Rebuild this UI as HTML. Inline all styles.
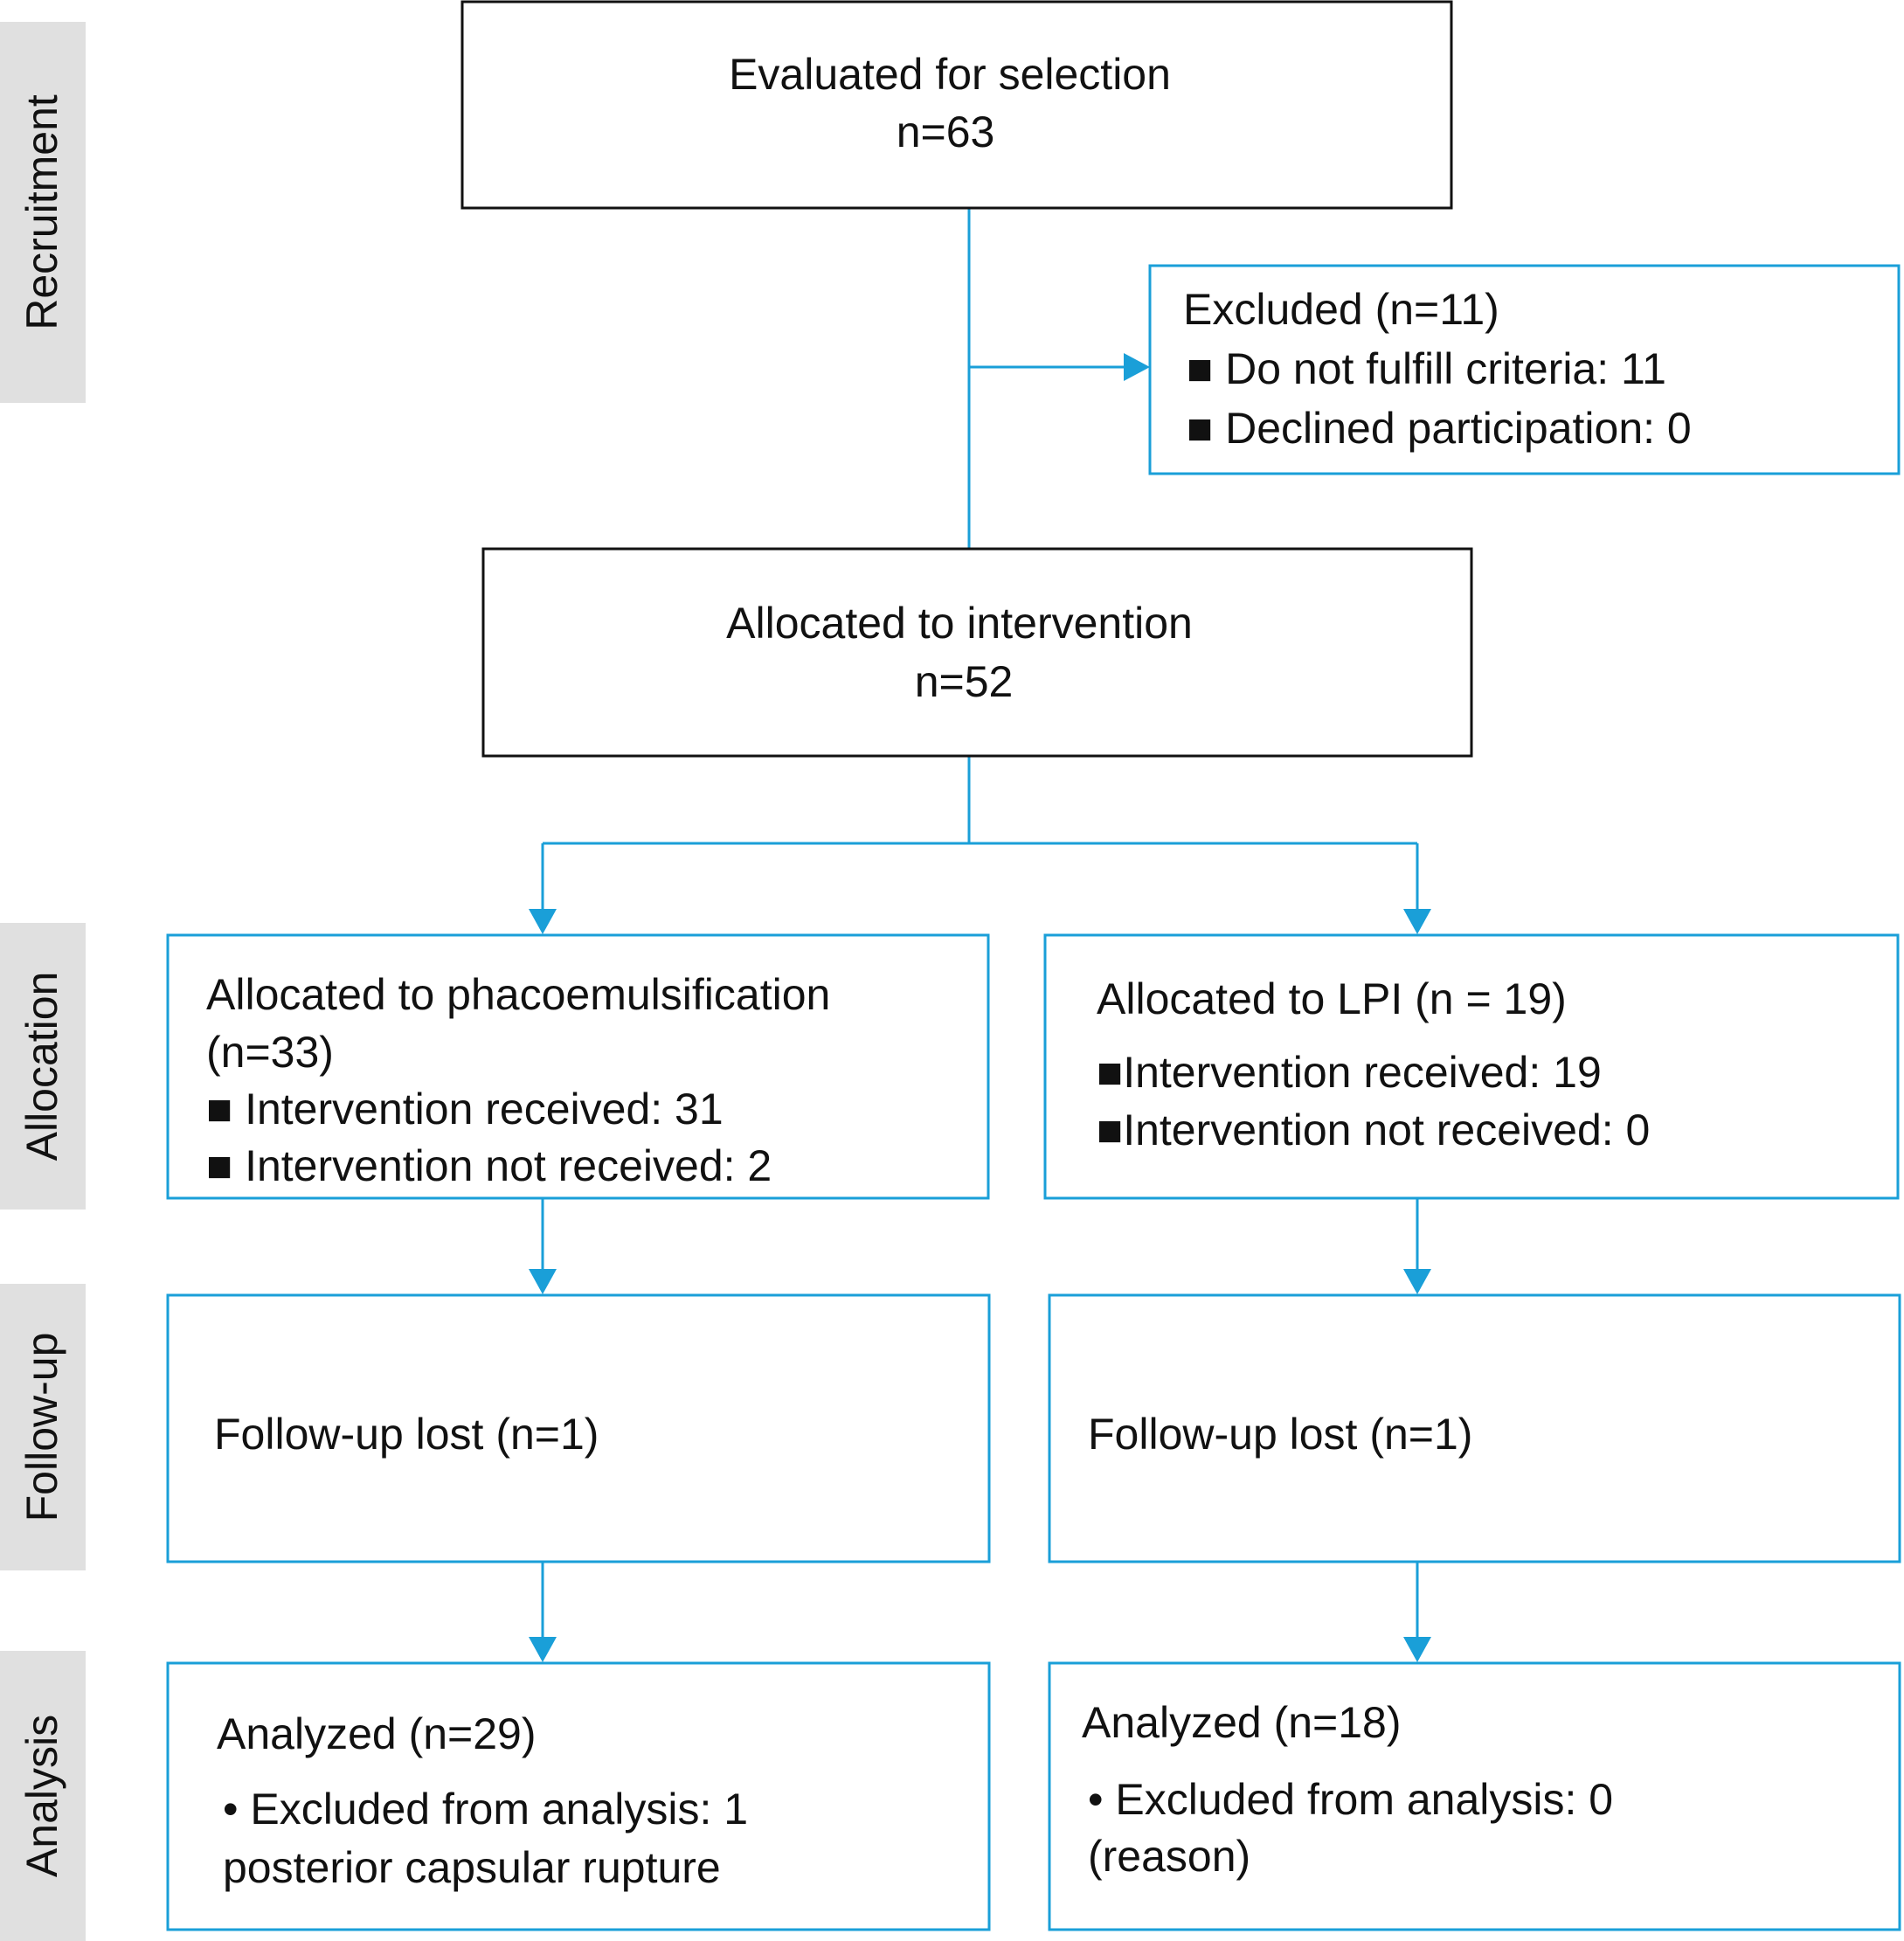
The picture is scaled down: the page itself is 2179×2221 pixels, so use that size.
<!DOCTYPE html>
<html><head><meta charset="utf-8"><style>
html,body{margin:0;padding:0;background:#fff;}
svg{display:block}
text{font-family:"Liberation Sans",Arial,sans-serif;fill:#111;font-size:50px;}
</style></head><body>
<svg width="2179" height="2221" viewBox="0 0 2179 2221" xmlns="http://www.w3.org/2000/svg">
<g fill="#e0e0e0">
<rect x="0" y="25" width="98" height="436"/>
<rect x="0" y="1056" width="98" height="328"/>
<rect x="0" y="1469" width="98" height="328"/>
<rect x="0" y="1889" width="98" height="332"/>
</g>
<g text-anchor="middle" dominant-baseline="central">
<text transform="translate(48,243) rotate(-90)">Recruitment</text>
<text transform="translate(48,1220) rotate(-90)">Allocation</text>
<text transform="translate(48,1633) rotate(-90)">Follow-up</text>
<text transform="translate(48,2055) rotate(-90)">Analysis</text>
</g>
<g stroke="#1a9fd8" stroke-width="3" fill="none">
<line x1="1109" y1="238" x2="1109" y2="628"/>
<line x1="1109" y1="420" x2="1295" y2="420"/>
<line x1="1109" y1="865" x2="1109" y2="965"/>
<line x1="621" y1="965" x2="1622" y2="965"/>
<line x1="621" y1="965" x2="621" y2="1045"/>
<line x1="1622" y1="965" x2="1622" y2="1045"/>
<line x1="621" y1="1371" x2="621" y2="1455"/>
<line x1="1622" y1="1371" x2="1622" y2="1455"/>
<line x1="621" y1="1787" x2="621" y2="1876"/>
<line x1="1622" y1="1787" x2="1622" y2="1876"/>
<rect x="1316" y="304" width="857" height="238"/>
<rect x="192" y="1070" width="939" height="301"/>
<rect x="1196" y="1070" width="976" height="301"/>
<rect x="192" y="1482" width="940" height="305"/>
<rect x="1201" y="1482" width="973" height="305"/>
<rect x="192" y="1903" width="940" height="305"/>
<rect x="1201" y="1903" width="973" height="305"/>
</g>
<g fill="#1a9fd8">
<polygon points="1286,404 1316,420 1286,436"/>
<polygon points="605,1040 637,1040 621,1069"/>
<polygon points="1606,1040 1638,1040 1622,1069"/>
<polygon points="605,1452 637,1452 621,1481"/>
<polygon points="1606,1452 1638,1452 1622,1481"/>
<polygon points="605,1873 637,1873 621,1902"/>
<polygon points="1606,1873 1638,1873 1622,1902"/>
</g>
<g stroke="#111" stroke-width="3" fill="none">
<rect x="529" y="2" width="1132" height="236"/>
<rect x="553" y="628" width="1131" height="237"/>
</g>
<g dominant-baseline="central">
<text x="1087" y="85" text-anchor="middle">Evaluated for selection</text>
<text x="1082" y="151" text-anchor="middle">n=63</text>
<text x="1098" y="713" text-anchor="middle">Allocated to intervention</text>
<text x="1103" y="780" text-anchor="middle">n=52</text>
<text x="1354" y="354">Excluded (n=11)</text>
<text x="1358" y="422">■ Do not fulfill criteria: 11</text>
<text x="1358" y="490">■ Declined participation: 0</text>
<text x="236" y="1138">Allocated to phacoemulsification</text>
<text x="236" y="1204">(n=33)</text>
<text x="236" y="1269">■ Intervention received: 31</text>
<text x="236" y="1334">■ Intervention not received: 2</text>
<text x="1255" y="1143">Allocated to LPI (n = 19)</text>
<text x="1255" y="1227">■Intervention received: 19</text>
<text x="1255" y="1293">■Intervention not received: 0</text>
<text x="245" y="1641">Follow-up lost (n=1)</text>
<text x="1245" y="1641">Follow-up lost (n=1)</text>
<text x="248" y="1984">Analyzed (n=29)</text>
<text x="255" y="2070">• Excluded from analysis: 1</text>
<text x="255" y="2137">posterior capsular rupture</text>
<text x="1238" y="1971">Analyzed (n=18)</text>
<text x="1245" y="2059">• Excluded from analysis: 0</text>
<text x="1245" y="2124">(reason)</text>
</g>
</svg>
</body></html>
